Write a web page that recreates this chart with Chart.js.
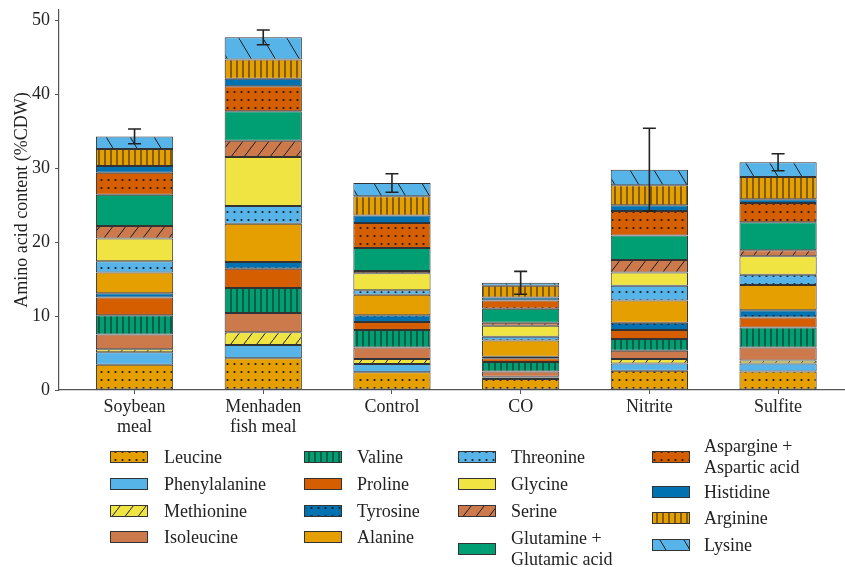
<!DOCTYPE html>
<html>
<head>
<meta charset="utf-8">
<script src="https://cdn.jsdelivr.net/npm/chart.js@4.4.1/dist/chart.umd.min.js"></script>
<style>
  html, body { margin: 0; padding: 0; background: #fff; overflow: hidden; }
  #wrap { width: 845px; height: 567px; }
</style>
</head>
<body>
<div id="wrap"><canvas id="aaChart"></canvas></div>
<script>
const categories = [["Soybean", "meal"], ["Menhaden", "fish meal"], "Control", "CO", "Nitrite", "Sulfite"];

// %CDW per amino acid, bottom of the stack first
const leucine       = [3.4, 4.3, 2.4, 1.5, 2.6, 2.5];
const phenylalanine = [1.7, 1.8, 1.1, 0.2, 1.0, 1.1];
const methionine    = [0.4, 1.7, 0.7, 0.1, 0.6, 0.4];
const isoleucine    = [2.0, 2.6, 1.55, 0.7, 1.1, 1.75];
const valine        = [2.6, 3.4, 2.35, 1.3, 1.6, 2.7];
const proline       = [2.4, 2.6, 1.1, 0.5, 1.2, 1.35];
const tyrosine      = [0.6, 0.9, 0.9, 0.2, 1.0, 1.0];
const alanine       = [2.8, 5.2, 2.8, 2.2, 3.0, 3.4];
const threonine     = [1.5, 2.4, 0.6, 0.5, 2.0, 1.4];
const glycine       = [3.1, 6.6, 2.3, 1.5, 1.8, 2.5];
const serine        = [1.7, 2.2, 0.3, 0.4, 1.7, 0.8];
const glutamine     = [4.2, 4.0, 3.1, 1.9, 3.3, 3.8];
const aspargine     = [3.0, 3.4, 3.4, 1.1, 3.3, 2.6];
const histidine     = [0.9, 1.0, 1.0, 0.4, 0.8, 0.5];
const arginine      = [2.3, 2.6, 2.6, 1.6, 2.7, 3.0];
const lysine        = [1.7, 3.0, 1.8, 0.4, 2.1, 2.0];

const totalError = [1.0, 1.0, 1.25, 1.55, 5.6, 1.15];
const yTicks = [0, 10, 20, 30, 40, 50];

const series = [
  { label: "Leucine", values: leucine, color: "#E69F00", hatch: "." },
  { label: "Phenylalanine", values: phenylalanine, color: "#56B4E9", hatch: null },
  { label: "Methionine", values: methionine, color: "#F0E442", hatch: "/" },
  { label: "Isoleucine", values: isoleucine, color: "#CC7A4C", hatch: null },
  { label: "Valine", values: valine, color: "#009E73", hatch: "|" },
  { label: "Proline", values: proline, color: "#D55E00", hatch: null },
  { label: "Tyrosine", values: tyrosine, color: "#0072B2", hatch: "." },
  { label: "Alanine", values: alanine, color: "#E69F00", hatch: null },
  { label: "Threonine", values: threonine, color: "#56B4E9", hatch: "." },
  { label: "Glycine", values: glycine, color: "#F0E442", hatch: null },
  { label: "Serine", values: serine, color: "#CC7A4C", hatch: "/" },
  { label: "Glutamine + Glutamic acid", values: glutamine, color: "#009E73", hatch: null },
  { label: "Aspargine + Aspartic acid", values: aspargine, color: "#D55E00", hatch: "." },
  { label: "Histidine", values: histidine, color: "#0072B2", hatch: null },
  { label: "Arginine", values: arginine, color: "#E69F00", hatch: "|" },
  { label: "Lysine", values: lysine, color: "#56B4E9", hatch: "\\" }
];

// legend slots: swatch left, swatch centre y, text x, text lines
const legendSlots = [
  [110, 457, 164, ["Leucine"]],
  [110, 484, 164, ["Phenylalanine"]],
  [110, 511, 164, ["Methionine"]],
  [110, 537, 164, ["Isoleucine"]],
  [304, 457, 357, ["Valine"]],
  [304, 484, 357, ["Proline"]],
  [304, 511, 357, ["Tyrosine"]],
  [304, 537, 357, ["Alanine"]],
  [458, 457, 511, ["Threonine"]],
  [458, 484, 511, ["Glycine"]],
  [458, 511, 511, ["Serine"]],
  [458, 549, 511, ["Glutamine +", "Glutamic acid"]],
  [652, 457, 704, ["Aspargine +", "Aspartic acid"]],
  [652, 492, 704, ["Histidine"]],
  [652, 518, 704, ["Arginine"]],
  [652, 545, 704, ["Lysine"]]
];

function makeFill(color, kind) {
  if (!kind) return color;
  const c = document.createElement("canvas");
  let w = 6, h = 6;
  if (kind === ".") { w = 7; h = 8; }
  if (kind === "/") { w = 13; h = 17; }
  if (kind === "\\") { w = 24; h = 40; }
  c.width = w;
  c.height = h;
  const g = c.getContext("2d");
  g.fillStyle = color;
  g.fillRect(0, 0, w, h);
  g.fillStyle = "#1a1a1a";
  g.strokeStyle = "#1a1a1a";
  g.lineWidth = 1;
  if (kind === ".") {
    g.beginPath();
    g.arc(3.5, 4, 1.1, 0, Math.PI * 2);
    g.fill();
  } else if (kind === "|") {
    g.fillRect(2.5, 0, 1, h);
  } else if (kind === "/") {
    g.beginPath();
    g.moveTo(-1, h + h / w);
    g.lineTo(w + 1, -h / w);
    g.stroke();
  } else if (kind === "\\") {
    g.beginPath();
    g.moveTo(-1, -h / w);
    g.lineTo(w + 1, h + h / w);
    g.stroke();
  }
  return g.createPattern(c, "repeat");
}

const errorBars = {
  id: "errorBars",
  afterDatasetsDraw(chart) {
    const ctx = chart.ctx;
    const xs = chart.scales.x, ys = chart.scales.y;
    ctx.save();
    ctx.strokeStyle = "#222";
    ctx.lineWidth = 1.6;
    categories.forEach((c, i) => {
      const total = chart.data.datasets.reduce((s, d) => s + d.data[i].y, 0);
      const x = xs.getPixelForValue(i);
      const top = ys.getPixelForValue(total + totalError[i]);
      const bot = ys.getPixelForValue(total - totalError[i]);
      ctx.beginPath();
      ctx.moveTo(x, top); ctx.lineTo(x, bot);
      ctx.moveTo(x - 6.5, top); ctx.lineTo(x + 6.5, top);
      ctx.moveTo(x - 6.5, bot); ctx.lineTo(x + 6.5, bot);
      ctx.stroke();
    });
    ctx.restore();
  }
};

const blockLegend = {
  id: "blockLegend",
  afterDraw(chart) {
    const ctx = chart.ctx;
    ctx.save();
    ctx.font = "18px 'Liberation Serif', 'Times New Roman', serif";
    ctx.textBaseline = "middle";
    ctx.textAlign = "left";
    chart.data.datasets.forEach((ds, k) => {
      const [sx, sy, tx, lines] = legendSlots[k];
      ctx.fillStyle = ds.backgroundColor;
      ctx.fillRect(sx, sy - 6, 38, 12);
      ctx.strokeStyle = "#333";
      ctx.lineWidth = 1;
      ctx.strokeRect(sx + 0.5, sy - 6 + 0.5, 37, 11);
      ctx.fillStyle = "#222";
      const off = (lines.length - 1) * 10.5;
      lines.forEach((t, j) => ctx.fillText(t, tx, sy - off + j * 21 + 1));
    });
    ctx.restore();
  }
};

Chart.defaults.font.family = "'Liberation Serif', 'Times New Roman', serif";
Chart.defaults.font.size = 18;
Chart.defaults.color = "#222";

new Chart(document.getElementById("aaChart").getContext("2d"), {
  type: "bar",
  data: {
    datasets: series.map(s => ({
      label: s.label,
      data: s.values.map((v, i) => ({ x: i, y: v })),
      backgroundColor: makeFill(s.color, s.hatch),
      borderColor: "#333",
      borderWidth: 1,
      borderSkipped: false,
      categoryPercentage: 1,
      barPercentage: 0.6
    }))
  },
  options: {
    responsive: true,
    maintainAspectRatio: false,
    animation: false,
    layout: { padding: { top: 10, right: 0, bottom: 0, left: 0 } },
    plugins: {
      legend: { display: false },
      tooltip: { enabled: false }
    },
    scales: {
      x: {
        type: "linear",
        stacked: true,
        offset: false,
        min: -0.587,
        max: 5.52,
        afterBuildTicks: s => { s.ticks = categories.map((c, i) => ({ value: i })); },
        afterFit: s => { s.height = 177; s.paddingLeft = 0; s.paddingRight = 0; },
        ticks: {
          callback: v => categories[v],
          padding: 3,
          maxRotation: 0,
          autoSkip: false,
          font: { size: 18, lineHeight: 1.12 }
        },
        grid: { display: true, offset: false, drawOnChartArea: false, drawTicks: true, tickLength: 4, color: "#555" },
        border: { display: true, color: "#555", width: 1.2 }
      },
      y: {
        stacked: true,
        min: 0,
        max: 51.4,
        afterBuildTicks: s => { s.ticks = yTicks.map(v => ({ value: v })); },
        afterFit: s => { s.width = 59; s.paddingTop = 0; s.paddingBottom = 0; },
        ticks: { padding: 5, font: { size: 18 } },
        grid: { display: true, drawOnChartArea: false, drawTicks: true, tickLength: 4, color: "#555" },
        border: { display: true, color: "#555", width: 1.2 },
        title: {
          display: true,
          text: "Amino acid content (%CDW)",
          padding: { top: 11, bottom: 0 },
          font: { size: 18 }
        }
      }
    }
  },
  plugins: [errorBars, blockLegend]
});
</script>
</body>
</html>
